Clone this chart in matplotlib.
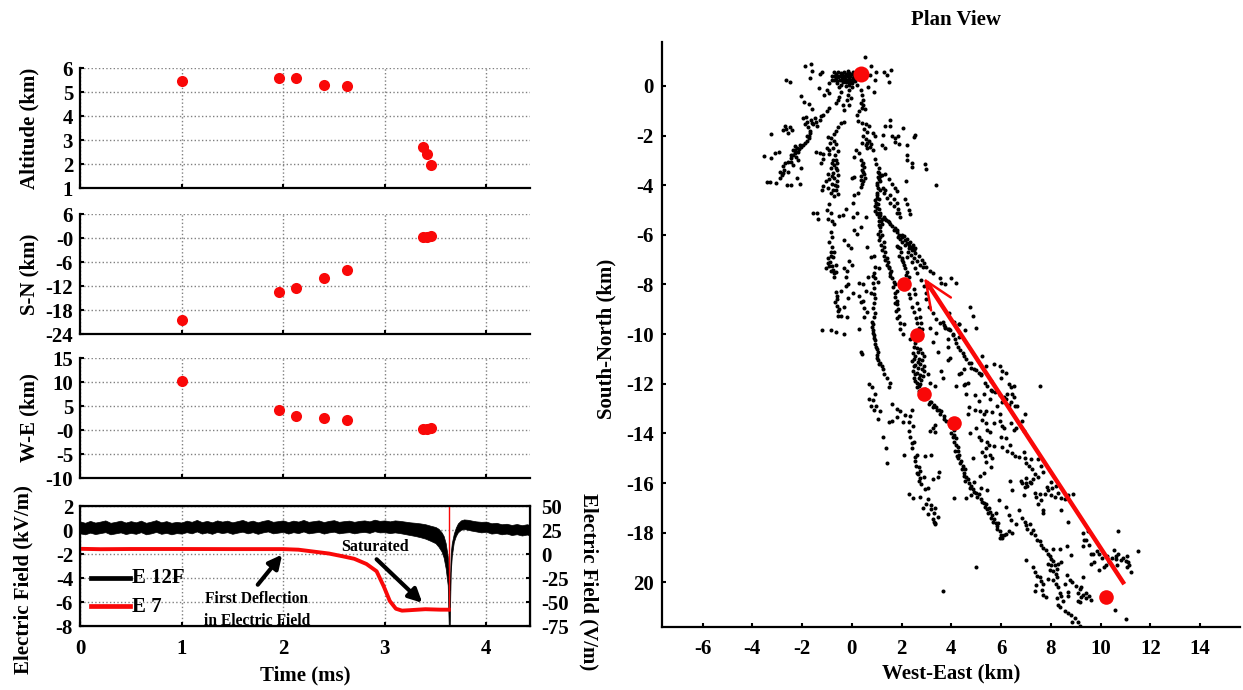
import matplotlib
matplotlib.use("Agg")
import matplotlib.pyplot as plt

plt.rcParams['font.family'] = ['Liberation Serif', 'DejaVu Serif']
plt.rcParams['font.weight'] = 'bold'
plt.rcParams['axes.labelweight'] = 'bold'
plt.rcParams['axes.unicode_minus'] = False

# --- source locations against time ---
time_ms = [1.0, 1.96, 2.13, 2.40, 2.63, 3.38, 3.42, 3.46]
altitude = [5.45, 5.6, 5.6, 5.3, 5.27, 2.7, 2.4, 1.95]
south_north = [-20.6, -13.6, -12.4, -10.05, -8.0, 0.3, 0.35, 0.5]
west_east = [10.2, 4.1, 2.9, 2.6, 2.1, 0.2, 0.3, 0.5]

# --- electric field records ---
e12f_t = [0, .05, .1, .15, .2, .25, .3, .35, .4, .45, .5, .55, .6, .65, .7, .75, .8, .85, .9, .95, 1, 1.05, 1.1, 1.15, 1.2, 1.25, 1.3, 1.35, 1.4, 1.45, 1.5, 1.55, 1.6, 1.65, 1.7, 1.75, 1.8, 1.85, 1.9, 1.95, 2, 2.05, 2.1, 2.15, 2.2, 2.25, 2.3, 2.35, 2.4, 2.45, 2.5, 2.55, 2.6, 2.65, 2.7, 2.75, 2.8, 2.85, 2.9, 2.95, 3, 3.05, 3.1, 3.15, 3.2, 3.25, 3.3, 3.35, 3.4, 3.45, 3.5, 3.53, 3.56, 3.58, 3.6, 3.62, 3.63, 3.64, 3.645, 3.65, 3.66, 3.68, 3.7, 3.72, 3.75, 3.78, 3.82, 3.86, 3.9, 3.95, 4, 4.05, 4.1, 4.15, 4.2, 4.25, 4.3, 4.35, 4.4, 4.43]
e12f_hi = [.72, .6, .76, .62, .7, .8, .6, .68, .78, .62, .74, .64, .78, .6, .7, .82, .64, .74, .6, .68,
           .62, .78, .68, .84, .66, .76, .64, .8, .7, .78, .64, .74, .84, .68, .78, .64, .76, .84, .68, .74,
           .8, .66, .78, .7, .84, .68, .74, .8, .66, .76, .82, .68, .74, .78, .68, .76, .8, .72, .86, .76,
           .8, .72, .8, .76, .7, .64, .6, .55, .48, .36, .25,
           .1, -.2, -.5, -1.1, -2.2, -3.5, -5, -3.2, -1.9, -1.1, -.3, .2, .55, .8, .88, .85, .78, .72, .68, .7, .56, .6, .48, .52, .42, .5, .4, .48, .42]
e12f_lo = [-.28, -.36, -.22, -.34, -.26, -.18, -.36, -.28, -.2, -.34, -.24, -.32, -.18, -.36, -.28, -.16, -.32, -.24, -.36, -.26,
           -.3, -.18, -.28, -.12, -.3, -.2, -.32, -.16, -.26, -.18, -.32, -.22, -.14, -.28, -.18, -.32, -.2, -.12, -.28, -.22,
           -.16, -.3, -.18, -.26, -.12, -.28, -.22, -.16, -.3, -.2, -.14, -.28, -.22, -.18, -.28, -.2, -.16, -.24, -.1, -.2,
           -.18, -.26, -.2, -.26, -.34, -.42, -.5, -.6, -.72, -.9, -1.1,
           -1.4, -1.8, -2.3, -3.2, -4.6, -8, -8, -5.5, -3.5, -2.2, -1, -.5, -.2, .02, .08, .02, -.06, -.12, -.2, -.15, -.3, -.25, -.36, -.3, -.42, -.35, -.46, -.38, -.45]
e7_t = [0, .2, .5, 1, 1.5, 2, 2.15, 2.3, 2.45, 2.6, 2.7, 2.82, 2.92, 2.99, 3.05, 3.11, 3.17, 3.25, 3.4, 3.55, 3.63]
e7_v = [5.4, 5, 5.2, 5.2, 5.1, 5.1, 4.5, 2.5, .5, -2.7, -5, -10.4, -18, -33.7, -49, -57, -59, -58.5, -57.5, -58, -58]
spike_t = [3.635, 3.635]
spike_v = [50, -58]

# --- flash sources in plan view (km), read branch by branch ---
top_cluster = [(-.72,.55),(-.62,.5),(-.55,.58),(-.5,.42),(-.45,.52),(-.4,.35),(-.38,.48),(-.33,.58),(-.3,.4),(-.27,.28),(-.25,.5),(-.2,.38),(-.17,.6),(-.15,.45),(-.12,.28),(-.1,.52),(-.06,.38),(-.03,.22),(0,.48),(.03,.33),(.06,.55),(.1,.42),(-.8,.38),(-.65,.3),(-.58,.2),(-.47,.22),(-.36,.15),(-.78,.22),(-.9,.12),(-.22,.14),(-.12,.12),(0,.1),(.12,.18),(.51,1.16),(-1.87,.82),(-1.63,.87),(-1.2,.58),(-1.29,.48),(-1.69,.31),(-1.59,.62),(-2.66,.23),(-2.47,.16),(.77,.82),(.99,.58),(1.3,.55),(1.59,.65),(1.41,.44),(1.5,.14),(.94,.24),(.73,.44),(.9,-.23),(.66,-.03),(-.4,.25),(-.3,.18),(-.2,.25),(-.1,.2),(-.55,.35),(-.68,.42),(.05,.22),(.15,.3),(-.6,.1),(-.42,.05),(-.25,0),(-.12,.02),(.02,-.05),(.2,.02)]
upper_scatter = [(-.7,.24),(-1,-.16),(-1.1,-.36),(-1.34,-.07),(-.9,-.3),(-.5,-.03),(-.43,-.23),(-.5,-.43),(-.63,-.7),(-.37,-.77),(-.1,-.77),(-.1,-.16),(-.17,-.36),(-.03,-.5),(.37,-.16),(.39,-.36),(.46,-.56),(.41,-.9),(.54,-.93),(.3,-1.03),(.19,-1.17),(.45,-.75),(.36,-.68),(-2.03,-.39),(-1.94,-.63),(-1.73,-.73),(-1.59,-.94),(-.55,-.55),(-.2,-.58),(-.3,-.95),(1.33,-1.6),(1.52,-1.6),(1.53,-1.37),(2.07,-1.68),(1.73,-2.1),(1.87,-2.03),(1.9,-2.33),(2.5,-2.07),(2.53,-1.97),(2.2,-2.38),(2.2,-2.78),(1.2,-2.38),(1.32,-2.5),(2.43,-3.25),(2.43,-3.1),(2.95,-3.15),(2.97,-3.34),(3.38,-3.98),(2.18,-3.83),(2.2,-3),(1.62,-2),(1.25,-1.98),(1.75,-2.27)]
far_left = [(-.9,-.9),(-1,-1.03),(-1.17,-1.17),(-1.3,-1.37),(-1.46,-1.44),(-1.63,-1.37),(-1.83,-1.26),(-1.97,-1.3),(-1.41,-1.61),(-1.77,-1.67),(-1.7,-1.91),(-1.74,-2.11),(-1.9,-2.31),(-2.03,-2.45),(-2.17,-2.65),(-2.37,-2.58),(-2.43,-2.78),(-2.23,-2.85),(-2.37,-3.19),(-2.57,-3.05),(-2.77,-3.23),(-2.77,-3.52),(-2.87,-3.72),(-3.03,-3.92),(-3.43,-3.86),(-3.53,-2.81),(-3.23,-2.92),(-3.1,-2.72),(-2.93,-2.65),(-3.26,-1.95),(-2.77,-1.77),(-2.5,-1.64),(-2.63,-1.75),(-2.4,-1.78),(-2.7,-1.6),(-2.55,-1.9),(-1.6,-1.5),(-1.5,-1.3),(-1.25,-1.2),(-1.55,-1.55),(-1.8,-1.45),(-1.9,-1.55),(-1.67,-1.8),(-1.82,-2.22),(-2.1,-2.38),(-2.3,-2.42),(-2.2,-2.5),(-2.3,-2.7),(-2.15,-3),(-2.05,-3.3),(-2.2,-3.7),(-2.72,-3.4),(-2.82,-3.6),(-2.9,-3.45),(-2.68,-3.1),(-2.45,-3.05),(-3.3,-3.88),(-2.6,-3.98),(-2.45,-4),(-2.55,-3.45),(-2.1,-3.95),(-1.8,-2),(-1.95,-2.4),(-2.12,-2.55),(-2.28,-2.6),(-2.35,-2.8),(-1.72,-2),(-2.45,-2.9)]
middle_left = [(-.3,-1.45),(-.45,-1.5),(-.55,-1.65),(-.63,-1.8),(-.7,-1.95),(-.82,-2.1),(-.95,-2.05),(-.72,-2.2),(-.88,-2.3),(-.65,-2.35),(-.75,-2.5),(-.9,-2.6),(-1,-2.5),(-.55,-2.62),(-.9,-2.75),(-.68,-2.8),(-1.15,-2.75),(-1.3,-2.7),(-1.45,-2.65),(-1.15,-2.95),(-1.25,-3.1),(-.75,-3),(-.58,-3.1),(-.7,-3.2),(-.85,-3.3),(-.6,-3.4),(-.75,-3.5),(-.95,-3.55),(-.55,-3.6),(-.7,-3.7),(-.9,-3.75),(-.6,-3.85),(-.78,-3.95),(-1.05,-3.85),(-.6,-4.05),(-.75,-4.2),(-.95,-4.1),(-1.15,-4.05),(-.55,-4.35),(-.72,-4.42),(-1.2,-4.2),(-1,-5),(-.9,-4.75),(-.85,-5.1),(-.95,-5.35),(-.78,-5.45),(-1.55,-5.1),(-1.35,-5.35),(-1.4,-5.1),(-.5,-5.25),(-.35,-5.2),(-.25,-4.95),(-.7,-5.55),(-.85,-5.9),(-.78,-6.1),(-.9,-6.3),(-.8,-6.5),(-.72,-6.7),(-.95,-6.95),(-.75,-6.9),(-.88,-7.1),(-.65,-7.2),(-1.05,-7.35),(-.82,-7.45),(-.65,-7.5),(-.72,-7.7),(-.3,-6.2),(-.15,-6.4),(-.05,-6.55),(0,-7.2),(-.1,-7.05),(-.3,-7.35),(-.2,-7.45),(-.25,-7.7),(-.15,-8),(-.25,-8.05),(-.45,-8.25),(-.6,-8.45),(-.68,-8.7),(-.6,-8.85),(-.55,-9.05),(-.55,-9.25),(-.45,-9.25),(-.2,-9.3),(-1.2,-9.85),(-.85,-9.85),(-.65,-9.9),(-.3,-9.98),(-.3,-8.9),(-.15,-8.55),(.05,-8.35),(.3,-7.95),(.45,-8),(.55,-8.25),(.5,-9.3),(.3,-9.8),(-.62,-3),(-.8,-3.1),(-.65,-3.3),(-.78,-3.62),(-.68,-4),(-.82,-4.3),(-.62,-4.2),(-.85,-6.7),(-.82,-6.85),(-.78,-7.25),(-.9,-7.25),(-.75,-7.4),(-.95,-7.15),(-.7,-7.55),(-.6,-8.6),(-.62,-8.3),(-.5,-9)]
center = [(.25,-1.4),(.4,-1.48),(.55,-1.55),(.7,-1.6),(.5,-1.75),(.62,-1.85),(.45,-2),(.55,-2.15),(.7,-2.2),(.85,-1.9),(.95,-2),(.78,-2.35),(.55,-2.4),(.62,-2.5),(.85,-2.6),(.4,-2.3),(.3,-2.7),(.15,-2.6),(.1,-2.85),(.35,-2.98),(.45,-3.1),(.5,-3.28),(.4,-3.4),(.48,-3.55),(.52,-3.7),(.35,-3.8),(.42,-3.95),(.35,-4.08),(.1,-3.65),(0,-3.7),(.25,-4.3),(.1,-4.4),(.05,-4.7),(.2,-5.1),(.55,-5.28),(.05,-5.3),(.35,-5.7),(.1,-5.8),(.2,-5.95),(.62,-2.3),(.72,-2.45),(.42,-3.2),(.46,-3.45),(.38,-3.62),(.45,-3.85)]
main_right = [(.92,-2.95),(.98,-3.15),(1.1,-3.3),(1.05,-3.45),(1.2,-3.6),(1.1,-3.75),(1.02,-3.9),(1.07,-4.1),(1,-4.3),(1.03,-4.5),(.98,-4.7),(1,-4.9),(.92,-5.05),(1.02,-5.15),(1.15,-5.2),(1.28,-5.28),(1.38,-5.4),(1.5,-5.5),(1.6,-5.65),(1.68,-5.8),(1.8,-5.9),(1.9,-6),(2,-6.1),(2.12,-6.2),(2.2,-6.32),(2.3,-6.4),(2.4,-6.5),(2.5,-6.6),(2.55,-6.72),(2.68,-6.87),(2.8,-7),(2.88,-7.12),(2.6,-7.05),(2.72,-7.2),(2.85,-7.28),(3,-7.3),(3.15,-7.45),(3.28,-7.55),(3.55,-7.75),(3.6,-7.95),(3.75,-8),(1.35,-3.55),(1.5,-3.75),(1.62,-3.95),(1.72,-4.1),(1.8,-4.25),(1.3,-4.3),(1.42,-4.5),(1.55,-4.7),(1.7,-4.85),(1.82,-5.1),(1.95,-5.3),(2.15,-4.55),(2.2,-4.75),(2.3,-5),(2.32,-5.15),(1.1,-5.45),(1.15,-5.7),(1.05,-5.95),(1.1,-6.2),(1.18,-6.4),(1.22,-6.6),(1.3,-6.85),(1.32,-7),(1.4,-7.2),(1.5,-7.35),(1.55,-7.55),(1.62,-7.75),(1.72,-8),(1.8,-8.25),(1.75,-8.5),(1.8,-8.8),(1.85,-9),(1.88,-9.25),(1.92,-9.55),(1.95,-9.8),(2.05,-10),(.75,-8.35),(.65,-7.7),(.85,-7.65),(1.05,-7.9),(1.1,-7.35),(.6,-6.5),(.75,-6.9),(.9,-6.85)]
dense_a = [(1.08,-3.5),(1.12,-3.62),(1.05,-3.68),(1.15,-3.85),(1.03,-4),(1.12,-4.2),(1,-4.4),(1.1,-4.55),(.95,-4.6),(1.05,-4.75),(.92,-4.85),(1.08,-4.95),(1,-5.1),(1.1,-5.3),(1.18,-5.45),(1.22,-5.35),(1.08,-5.6),(1.2,-5.55),(1.12,-5.85),(1.2,-6),(1.15,-6.1),(1.28,-6.3),(1.3,-6.5),(1.35,-6.7),(1.42,-6.95),(1.45,-7.1),(1.48,-7.28),(1.58,-7.45),(1.55,-7.65),(1.68,-7.9),(1.65,-8.1),(1.72,-8.35),(1.82,-8.65),(1.72,-8.75),(1.78,-9.05),(1.82,-9.35),(1.25,-4.1),(1.35,-4.2),(1.55,-4.4),(1.68,-4.55),(1.8,-4.7),(1.85,-4.95),(1.9,-5.1),(1.15,-5.1),(1.35,-5.35),(1.45,-5.45),(1.55,-5.58),(1.72,-5.72),(1.82,-5.8),(2,-6),(2.1,-6.05),(2.2,-6.15),(2.32,-6.28),(2.45,-6.42),(2.55,-6.52),(2.42,-6.6),(2.3,-6.52),(2.15,-6.4),(2.02,-6.28),(1.95,-6.15),(1.85,-6.1),(2.25,-6.7),(2.38,-6.82),(2.5,-6.95),(1.82,-6.45),(1.92,-6.55),(1.9,-6.85),(2,-7),(2.05,-7.1),(2.12,-7.35),(2.18,-7.6),(.95,-7.3),(.88,-7.55),(.92,-7.75),(.85,-7.95),(.9,-8.15),(.88,-8.4),(.95,-8.55),(.9,-8.75),(.86,-8.95),(.95,-9.15),(.88,-9.3),(2.28,-8.4),(2.35,-8.55),(2.42,-8.9),(2.5,-9.1),(2.58,-9.35),(2.62,-9.55),(2.68,-9.75),(.28,-8.45),(.35,-8.7),(.45,-8.65),(.5,-8.95),(.62,-9.1)]
red_path_left = [(1.85,-6.5),(1.98,-6.7),(2,-6.95),(2.1,-7.2),(2.22,-7.5),(2.3,-7.7),(2.5,-8.2),(2.55,-8.4),(2.6,-8.75),(2.68,-9),(2.72,-9.3),(2.78,-9.55),(2.8,-9.8),(2.2,-6.88),(2.4,-7.1),(2.55,-7.32),(2.62,-7.55),(2.78,-7.8),(2.9,-8.05),(2.98,-8.35),(3,-8.6),(3.1,-8.9),(3.25,-9.15),(3.4,-9.4),(3.55,-9.55),(3.75,-9.7),(3.9,-9.8),(4.05,-10),(4.3,-10.1),(4,-7.75),(4.2,-7.95),(3.05,-8.1),(4.75,-8.9),(4.85,-9.25),(5,-9.75),(3.9,-9.15),(4.3,-9.6),(4.55,-9.85)]
branch_j = [(.82,-9.5),(.8,-9.7),(.85,-9.95),(.88,-10.15),(.95,-10.4),(1.02,-10.6),(1,-10.85),(1.05,-11.05),(1.15,-11.15),(1.25,-11.4),(1.3,-11.6),(1.42,-11.75),(1.55,-11.95),(1.48,-12.15),(.7,-12),(.8,-12.15),(.95,-12.4),(.85,-12.65),(.98,-12.9),(.7,-12.6),(.75,-12.9),(.9,-13.05),(1.05,-13.4),(.38,-10.7),(.42,-10.8),(1.15,-13.1),(1.25,-14.15),(1.38,-14.6),(1.42,-15.2),(.84,-9.6),(.86,-9.82),(.9,-10.05),(.92,-10.25),(.98,-10.5),(1.06,-10.72),(1.02,-10.95),(1.1,-11.2),(1.2,-11.3)]
branch_l = [(1.62,-12.8),(1.8,-13),(1.95,-13.1),(2.15,-13.25),(2.35,-13.3),(2.3,-13.55),(2.45,-13.7),(2.3,-13.9),(2.35,-14.15),(2.5,-14.35),(2.4,-14.6),(2.6,-14.85),(2.55,-15.1),(2.68,-15.35),(2.75,-15.5),(2.6,-15.6),(2.9,-15.75),(2.68,-15.9),(2.78,-16.05),(2.95,-16.25),(3.05,-16.2),(2.75,-16.55),(3.05,-16.65),(3,-16.85),(3.2,-16.9),(2.85,-17),(3.35,-17),(3.2,-17.05),(3.05,-17.25),(3.3,-17.2),(3.45,-17.35),(3.25,-17.45),(3.35,-17.6),(2.3,-16.45),(2.45,-16.6),(2.95,-14.9),(3.2,-14.85),(3.5,-15.55),(3.45,-15.75),(3.25,-15.85),(3.3,-17.55),(3.35,-17.65),(2.1,-14.85),(2.05,-13.55),(2.4,-13.05),(3.35,-13.65),(3.25,-13.8),(3.35,-13.95),(3.15,-13.9),(1.6,-13.5),(1.5,-13.55),(1.8,-13.35),(2.65,-15.65),(2.75,-15.8),(2.58,-15.3),(2.52,-14.95),(2.42,-14.4)]
branch_m = [(2.1,-9.6),(2.35,-10.2),(2.55,-10.35),(2.6,-10.55),(2.75,-10.6),(2.45,-10.75),(2.55,-10.9),(2.7,-11),(2.88,-10.9),(2.4,-11.1),(2.55,-11.25),(2.75,-11.2),(2.9,-11.3),(2.45,-11.5),(2.62,-11.55),(2.75,-11.65),(2.88,-11.5),(2.5,-11.75),(2.62,-11.95),(2.78,-11.85),(2.6,-12.15),(2.7,-12.3),(2.5,-10.5),(2.65,-10.72),(2.82,-10.75),(2.5,-11),(2.65,-11.12),(2.82,-11.05),(2.48,-11.3),(2.65,-11.38),(2.82,-11.42),(2.55,-11.62),(2.7,-11.75),(2.85,-11.7),(2.55,-11.88),(2.72,-12.02),(2.68,-12.1),(2.92,-12.2),(3.1,-12.8),(3.2,-12.75),(3.3,-12.85),(3.4,-12.95),(3.52,-13.05),(3.55,-13.2),(3.7,-13.3),(3.8,-13.5),(4,-13.75),(4.1,-13.85),(4,-14),(4.05,-14.15),(4.2,-14.2),(4.1,-14.35),(4.25,-14.55),(4.15,-14.7),(4.3,-14.85),(4.25,-15),(4.4,-15.1),(4.45,-15.3),(4.55,-15.45),(4.5,-15.6),(4.6,-15.75),(4.55,-15.9),(4.7,-16),(4.8,-16.1),(4.85,-16.25),(5,-16.4),(5.1,-16.45),(5.2,-16.65),(5.32,-16.8),(5.4,-16.85),(5.42,-17.05),(5.55,-17.15),(5.62,-17.3),(5.7,-17.45),(5.78,-17.6),(5.85,-17.75),(5.95,-17.95),(6,-18.1),(6.05,-18.2),(6.2,-18.05),(6.1,-18.1),(5.95,-18.2),(3.15,-12.72),(3.28,-12.95),(3.42,-13.05),(3.6,-13.1),(3.7,-13.42),(4.12,-14.05),(4.18,-14.45),(4.28,-14.7),(4.22,-14.9),(4.35,-15.2),(4.42,-15.45),(4.52,-15.7),(4.68,-15.85),(4.75,-16.2),(4.9,-16.35),(5.05,-16.55),(5.25,-16.75),(5.35,-16.95),(5.5,-17),(5.48,-17.2),(5.58,-17.4),(5.68,-17.55),(5.82,-17.85),(5.88,-17.6),(5.45,-16.3),(5.2,-16.2),(5.9,-16.7),(6.2,-16.95),(6.3,-17.3),(6.4,-17.5),(6.6,-17.65),(6.3,-17.95),(6.45,-18),(5.8,-17.2),(4.6,-16.6),(4.8,-16.5),(4.1,-16.6),(4.9,-15.95),(5.15,-15.7),(5.3,-15.6),(5.5,-14.45),(5.4,-15.15),(5.6,-15.35)]
branch_n = [(6.85,-17.4),(6.95,-17.55),(7,-17.7),(7.15,-17.65),(7.05,-17.85),(7.2,-18),(7.3,-17.9),(7.35,-18.1),(7.45,-18.3),(7.55,-18.35),(7.6,-18.5),(7.7,-18.6),(7.8,-18.7),(7.88,-18.85),(7.95,-18.95),(8,-19.05),(8.1,-19.15),(8.15,-19.3),(8.25,-19.45),(8.3,-19.25),(8,-19.3),(7.95,-19.5),(8.1,-19.55),(8.2,-19.65),(8.25,-19.8),(8.1,-19.9),(7.9,-19.85),(7.3,-19.4),(7.35,-19.6),(7.45,-19.75),(7.55,-19.8),(7.6,-19.95),(7.7,-20.05),(7.4,-20.1),(7.65,-20.3),(7.7,-20.5),(7.8,-20.6),(7.35,-20.35),(8.2,-20.05),(8.3,-20.2),(8.35,-20.45),(8.4,-20.55),(8.25,-20.65),(8.5,-20.75),(8.3,-20.9),(8.35,-21),(8.55,-21.15),(8.7,-21.25),(8.8,-21.3),(8.95,-21.45),(8.85,-21.6),(9.1,-21.6),(9.15,-21.75),(8.65,-19.7),(8.75,-19.9),(8.55,-20.05),(8.85,-20),(9,-20.15),(9.15,-20.25),(9.1,-20.45),(9.3,-20.5),(9.4,-20.45),(9.55,-20.55),(9.6,-20.7),(9.4,-20.65),(9.2,-20.6),(9.1,-20.75),(9.15,-20.8),(8.7,-20.4),(8.7,-20.55),(8.65,-18.55),(8.8,-18.9),(8.35,-18.65),(8.1,-18.65),(8.4,-19.2),(7.9,-19.25),(9.2,-20.2),(9.3,-19.8),(7,-19.1),(5,-19.4),(3.65,-20.35)]
branch_q = [(3.65,-9.5),(3.75,-9.75),(3.95,-9.85),(4.15,-10.2),(4.25,-10.5),(4.45,-10.75),(4.6,-11),(4.8,-11.35),(5,-11.45),(5.2,-11.65),(5.35,-11.95),(5.45,-12.1),(5.6,-12.25),(5.75,-12.35),(5.95,-12.45),(6.1,-12.55),(6.2,-12.6),(6.25,-12.4),(6.4,-12.15),(6.45,-12.4),(6.5,-12.55),(6.4,-12.75),(6.55,-12.9),(6.3,-12.85),(6.05,-12.75),(5.95,-13.2),(5.82,-12.9),(5.6,-11.9),(5.65,-12.3),(6.2,-11.55),(6.05,-11.5),(6,-11.75),(6.5,-12.1),(6.3,-12),(5.95,-11.3),(5.7,-11.2),(5.4,-13.1),(5.3,-13.2),(5.25,-13.45),(5.4,-13.6),(5.45,-13.85),(5.55,-13.95),(5.65,-13.15),(5.7,-13.6),(5.95,-13.5),(6.05,-13.7),(6.1,-13.8),(6.4,-13.6),(6.5,-13.85),(6.6,-13.8),(6.9,-13.9),(6.95,-13.2),(7.55,-12.1),(6.85,-13.5),(6.65,-12.9),(3.7,-9.65),(3.85,-9.8),(4.05,-10.05),(4.2,-10.35),(4.35,-10.62),(4.52,-10.88),(4.7,-11.18),(4.9,-11.4),(5.1,-11.55)]
branch_s = [(6,-14.15),(6.2,-14.2),(6.35,-14.45),(6.25,-14.7),(6.45,-14.8),(6.55,-14.9),(6.7,-14.95),(6.9,-14.75),(6.95,-15),(7,-15.2),(7.2,-15.05),(7.1,-15.3),(7.25,-15.45),(7.35,-15.65),(7.5,-15.75),(7.3,-15.85),(7.15,-15.95),(7,-15.8),(6.85,-16),(6.95,-16.15),(6.8,-15.9),(7,-16),(7.05,-16.1),(7.2,-16),(7.7,-15.55),(7.6,-15.3),(7.5,-15.05),(7.85,-16.15),(8,-15.95),(8.05,-16.2),(8.2,-16.1),(8,-16.5),(8.3,-16.4),(7.9,-16.3),(8.15,-16.55),(8.4,-16.6),(8.55,-16.65),(8.7,-16.5),(8.9,-16.45),(7.35,-16.4),(7.4,-16.55),(7.55,-16.45),(7.75,-16.45),(7.6,-16.7),(6.45,-16.3),(6.9,-16.5),(7.5,-16.85),(8.4,-17.1),(7.7,-17.1),(6.7,-17.1),(7.7,-17.2),(8.7,-17.55),(9.3,-18),(9.5,-17.95),(9.4,-18.3),(9.3,-18.55),(9.55,-18.5),(9.7,-18.85),(9.85,-18.75),(9.95,-18.85),(9.35,-18.3),(9.6,-18.85),(10.05,-19),(10.25,-18.95),(10.45,-19),(10.6,-19.05),(10.7,-18.85),(10.8,-19.1),(10.9,-19),(11,-19.15),(11.1,-19.2),(11.15,-19.3),(11.2,-19.6),(10.55,-18.7),(10.6,-18.95),(10.65,-19.3),(10.2,-19.3),(10.35,-19.2),(10.15,-19.4),(9.95,-19.5),(9.75,-19.2),(9.6,-19.25),(10.7,-17.95),(11.5,-18.75),(10.56,-21.13),(11,-21.46),(11.05,-19.4),(11.05,-18.95)]
ne_extra = [(4.5,-11.4),(4.4,-11.55),(4.5,-12.05),(4.55,-12),(4.6,-12.4),(4.95,-13.05),(5.1,-12.7),(4.65,-13.2),(5.15,-13.1),(4.95,-12.45),(5.3,-12.4),(5.55,-12.6),(4.7,-12.95),(4.2,-12.1),(5.1,-14.15),(5.2,-14.25),(5.4,-14.6),(5.55,-14.85),(5.65,-15),(5.45,-14.35),(5.7,-14.5),(6.05,-14.55),(6.35,-15.9),(3.45,-10.7),(3.4,-9.95),(3.85,-10.2),(3.85,-10.5),(3.85,-11.05),(4.3,-11.6),(4.3,-9.6),(4.1,-9.5),(3.15,-9.75),(3.25,-10.3),(3.6,-11.5),(3.65,-11.75),(3.95,-10.95),(5.25,-10.9),(5.2,-11.6),(5.4,-11.3),(4.8,-11.15),(4.65,-11.95),(5,-13.8),(4.75,-14),(4.85,-15),(5.25,-14.75),(5.35,-14.9),(3.35,-12.1),(3.15,-11.95),(3.05,-11.6)]

# tick label strings as printed on the original
sn_ticks = [6, 0, -6, -12, -18, -24]
sn_labels = ['6', '-0', '-6', '-12', '-18', '-24']
we_ticks = [15, 10, 5, 0, -5, -10]
we_labels = ['15', '10', '5', '-0', '-5', '-10']
plan_y_ticks = [0, -2, -4, -6, -8, -10, -12, -14, -16, -18, -20]
plan_y_labels = ['0', '-2', '-4', '-6', '-8', '-10', '-12', '-14', '-16', '-18', '20']
plan_x_ticks = [-6, -4, -2, 0, 2, 4, 6, 8, 10, 12, 14]

RED = '#f90808'
GRID = '#808080'

fig = plt.figure(figsize=(12.43, 6.90), dpi=100)
W, H = 1243.0, 690.0


def add_axes_px(left, top, right, bottom):
    return fig.add_axes([left / W, 1 - bottom / H, (right - left) / W, (bottom - top) / H])


def style_panel(ax, ylim, yticks, ylabels, ylabel):
    ax.set_xlim(0, 4.43)
    ax.set_ylim(*ylim)
    ax.set_xticks([0, 1, 2, 3, 4])
    ax.set_xticklabels([])
    ax.set_yticks(yticks)
    ax.set_yticklabels(ylabels, fontsize=15)
    ax.set_ylabel(ylabel, fontsize=15)
    ax.yaxis.set_label_coords(-0.089, 0.5)
    ax.grid(True, linestyle=':', color=GRID, linewidth=1.0)
    ax.set_axisbelow(True)
    ax.spines['top'].set_visible(False)
    ax.spines['right'].set_visible(False)
    ax.spines['left'].set_linewidth(1.6)
    ax.spines['bottom'].set_linewidth(1.6)
    ax.tick_params(direction='in', length=3, width=1.5, pad=5)


ax1 = add_axes_px(80, 68, 530, 188)
ax1.plot(time_ms, altitude, 'o', color=RED, ms=8, mew=0, zorder=5)
style_panel(ax1, (1, 6), [1, 2, 3, 4, 5, 6], ['1', '2', '3', '4', '5', '6'], 'Altitude (km)')

ax2 = add_axes_px(80, 214, 530, 334)
ax2.plot(time_ms, south_north, 'o', color=RED, ms=8, mew=0, zorder=5)
style_panel(ax2, (-24, 6), sn_ticks, sn_labels, 'S-N (km)')

ax3 = add_axes_px(80, 358, 530, 478)
ax3.plot(time_ms, west_east, 'o', color=RED, ms=8, mew=0, zorder=5)
style_panel(ax3, (-10, 15), we_ticks, we_labels, 'W-E (km)')

ax4 = add_axes_px(80, 506, 530, 626)
ax4.fill_between(e12f_t, e12f_lo, e12f_hi, color='black', linewidth=0.5)
ax4.set_xlim(0, 4.43)
ax4.set_ylim(-8, 2)
ax4.set_xticks([0, 1, 2, 3, 4])
ax4.set_yticks([2, 0, -2, -4, -6, -8])
ax4.tick_params(direction='in', length=3, width=1.5, labelsize=15, pad=5)
ax4.tick_params(axis='x', pad=9)
ax4.grid(True, linestyle=':', color=GRID, linewidth=1.0)
ax4.set_axisbelow(True)
ax4.set_xlabel('Time (ms)', fontsize=15, labelpad=5)
ax4.set_ylabel('Electric Field (kV/m)', fontsize=15)
ax4.yaxis.set_label_coords(-0.104, 0.385)
for sp in ax4.spines.values():
    sp.set_linewidth(1.6)

axr = ax4.twinx()
axr.plot(e7_t, e7_v, color=RED, linewidth=2.8)
axr.plot(spike_t, spike_v, color=RED, linewidth=1.0)
axr.set_ylim(-75, 50)
axr.set_yticks([50, 25, 0, -25, -50, -75])
axr.tick_params(direction='in', length=3, width=1.5, labelsize=15, pad=8)
axr.set_ylabel('Electric Field (V/m)', fontsize=15, rotation=270, labelpad=16)
axr.yaxis.set_label_coords(1.153, 0.37)

ax4.plot([0.11, 0.49], [-4.0, -4.0], color='black', linewidth=3.4)
axr.plot([0.11, 0.49], [-54.5, -54.5], color=RED, linewidth=3.4)
ax4.text(0.515, -4.0, 'E 12F', fontsize=15, va='center')
ax4.text(0.515, -6.4, 'E 7', fontsize=15, va='center')
ax4.text(1.74, -6.65, 'First Deflection\nin Electric Field', fontsize=11.2, ha='center', va='center', linespacing=1.5)
ax4.text(2.9, -1.45, 'Saturated', fontsize=11.5, ha='center', va='center')
ax4.annotate('', xy=(1.99, -2.05), xytext=(1.75, -4.56),
             arrowprops=dict(arrowstyle='-|>', color='black', lw=3, mutation_scale=20, shrinkA=0, shrinkB=0))
ax4.annotate('', xy=(3.37, -6.07), xytext=(2.92, -2.44),
             arrowprops=dict(arrowstyle='-|>', color='black', lw=3, mutation_scale=20, shrinkA=0, shrinkB=0))

# --- plan view ---
axp = add_axes_px(662, 42, 1240, 627)
branches = [top_cluster, upper_scatter, far_left, middle_left, center, main_right, dense_a, red_path_left,
            branch_j, branch_l, branch_m, branch_n, branch_q, branch_s, ne_extra]
for branch in branches:
    axp.plot([p[0] for p in branch], [p[1] for p in branch], 'o', color='black', ms=2.9, mew=0)
axp.plot(west_east[:5], south_north[:5], 'o', color=RED, ms=10.5, mew=0, zorder=5)
axp.plot(0.35, south_north[-1], 'o', color=RED, ms=11.5, mew=0, zorder=5)
# shaft heavier than the barbs of the head
axp.plot([10.9, 3.05], [-20, -7.97], color=RED, linewidth=3.2, zorder=6)
axp.annotate('', xy=(2.9, -7.74), xytext=(10.9, -20),
             arrowprops=dict(arrowstyle='->,head_width=0.85,head_length=2.0', color=RED, lw=1.8,
                             mutation_scale=10, shrinkA=0, shrinkB=0), zorder=6)
axp.set_xlim(-7.63, 15.6)
axp.set_ylim(-21.8, 1.77)
axp.set_xticks(plan_x_ticks)
axp.set_yticks(plan_y_ticks)
axp.set_yticklabels(plan_y_labels)
axp.tick_params(direction='in', length=3, width=1.5, labelsize=15, pad=6)
axp.tick_params(axis='x', pad=9)
axp.spines['top'].set_visible(False)
axp.spines['right'].set_visible(False)
axp.spines['left'].set_linewidth(1.6)
axp.spines['bottom'].set_linewidth(1.6)
axp.set_xlabel('West-East (km)', fontsize=15, labelpad=3)
axp.set_ylabel('South-North (km)', fontsize=15)
axp.yaxis.set_label_coords((616 - 662) / 578, (627 - 339) / 585)
fig.text(956 / W, 1 - 20 / H, 'Plan View', fontsize=15, ha='center', va='center')

fig.savefig('out.png', dpi=100)
